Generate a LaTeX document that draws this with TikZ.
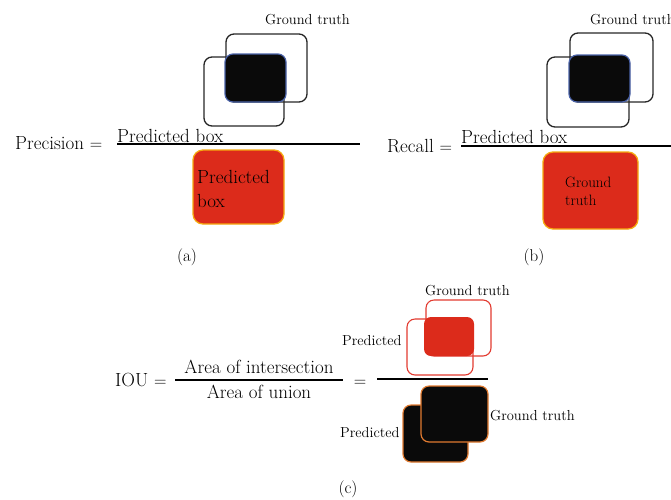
\documentclass[tikz,border=0pt]{standalone}
\begin{document}
\begin{tikzpicture}[x=1pt,y=-1pt,
  outl/.style={draw=black!85,line width=1.3pt,rounded corners=8pt},
  blk/.style={fill=black!96,draw=#1,line width=1.2pt,rounded corners=8pt},
  redbox/.style={fill=boxred,draw=boxyellow,line width=1.3pt,rounded corners=10pt},
  redoutl/.style={draw=outred,line width=1.1pt,rounded corners=8pt},
  big/.style={inner sep=0pt,font=\fontsize{19}{22}\selectfont},
  small/.style={inner sep=0pt,font=\fontsize{14.5}{17}\selectfont},
  mid/.style={inner sep=0pt,font=\fontsize{15}{18}\selectfont},
  captext/.style={inner sep=0pt,font=\fontsize{17}{20}\selectfont,anchor=base},
  frac/.style={line width=1.2pt}]
\definecolor{boxred}{HTML}{DC2B1B}
\definecolor{boxyellow}{HTML}{F5AA10}
\definecolor{blueb}{HTML}{4A62A8}
\definecolor{outred}{HTML}{E23A30}
\definecolor{orb}{HTML}{E07A30}
\useasboundingbox (0,0) rectangle (671,499);

% ---------- (a) ----------
\node[small,anchor=base west] (agt) at (265,24) {Ground truth};
\draw[outl] (226,34) rectangle (307,102);
\draw[outl] (204,57) rectangle (284,126);
\draw[blk=blueb] (225,54) rectangle (286,102);
\node[big,anchor=base west] (aprec) at (15,149) {Precision $=$};
\node[big,anchor=base west] (anum) at (117,142) {Predicted box};
\coordinate (al1) at (117,144);
\coordinate (al2) at (360,144);
\draw[frac] (al1) -- (al2);
\draw[redbox] (193,150) rectangle (284,224);
\node[big,anchor=base west] (ap1) at (197,183) {Predicted};
\node[big,anchor=base west] (ap2) at (197,207) {box};
\node[captext] (capa) at (187,261) {(a)};

% ---------- (b) ----------
\node[small,anchor=base west] (bgt) at (590,24) {Ground truth};
\draw[outl] (570,33) rectangle (653,102);
\draw[outl] (547,57) rectangle (629,127);
\draw[blk=blueb] (569,55) rectangle (630,102);
\node[big,anchor=base west] (brec) at (387,152) {Recall $=$};
\node[big,anchor=base west] (bnum) at (461,143) {Predicted box};
\coordinate (bl1) at (461,146);
\coordinate (bl2) at (671,146);
\draw[frac] (bl1) -- (bl2);
\draw[redbox] (543,152) rectangle (638,229);
\node[mid,anchor=base west] (bg1) at (565,187) {Ground};
\node[mid,anchor=base west] (bg2) at (565,205) {truth};
\node[captext] (capb) at (534,261) {(b)};

% ---------- (c) ----------
\node[big,anchor=base west] (iou) at (115,386) {IOU $=$};
\node[big,anchor=base] (cnum) at (259,373) {Area of intersection};
\node[big,anchor=base] (cden) at (259,398) {Area of union};
\coordinate (cl1) at (175,380);
\coordinate (cl2) at (343,380);
\draw[frac] (cl1) -- (cl2);
\node[big,anchor=base] (ceq) at (360,386) {$=$};
\coordinate (cl3) at (377,379);
\coordinate (cl4) at (488,379);
\draw[frac] (cl3) -- (cl4);
% top: intersection
\node[small,anchor=base west] (cgt1) at (425,295) {Ground truth};
\node[small,anchor=base west] (cpr1) at (342,345) {Predicted};
\draw[redoutl] (426,300) rectangle (491,356);
\draw[redoutl] (407,319) rectangle (473,375);
\fill[boxred,rounded corners=7pt] (424,317) rectangle (474,356);
% bottom: union
\draw[blk=orb] (403,405) rectangle (468,462);
\draw[blk=orb] (421,386) rectangle (488,442);
\node[small,anchor=base west] (cgt2) at (490,420) {Ground truth};
\node[small,anchor=base west] (cpr2) at (340,437) {Predicted};
\node[captext] (capc) at (348,493) {(c)};
\end{tikzpicture}
\end{document}
